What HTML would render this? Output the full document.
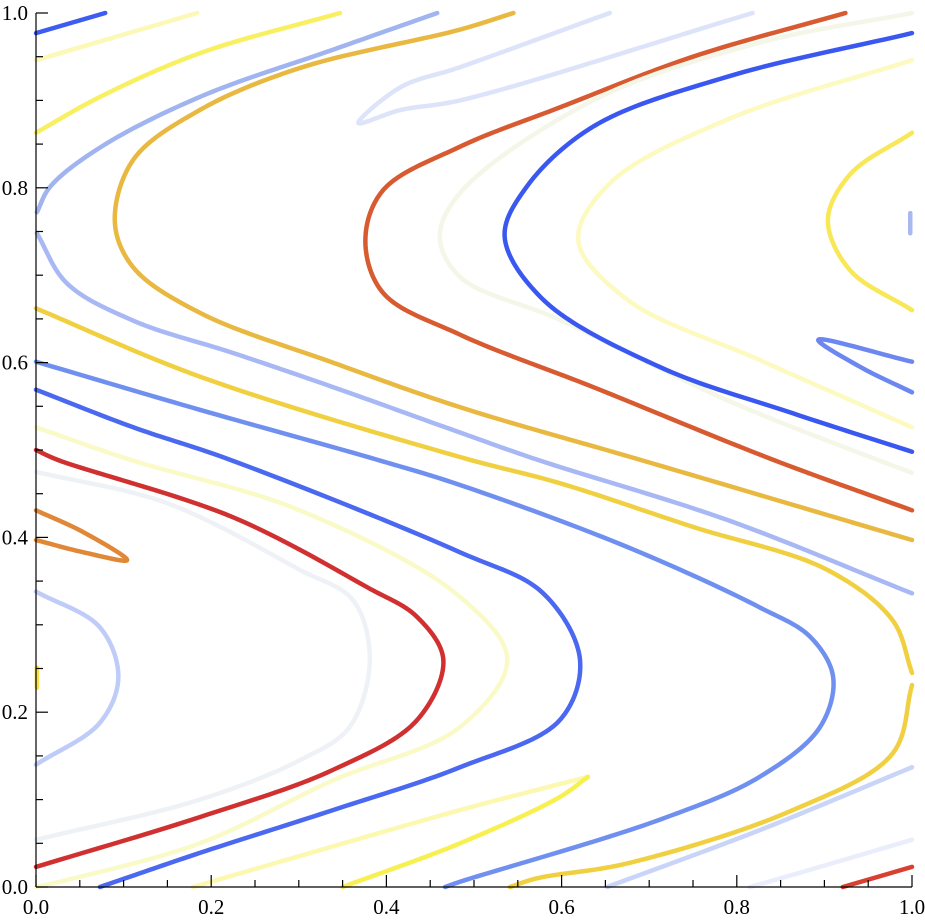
<!DOCTYPE html>
<html><head><meta charset="utf-8"><style>
html,body{margin:0;padding:0;background:#fff;}
svg{display:block;}
text{font-family:"Liberation Serif",serif;font-size:21px;fill:#000;}
</style></head><body>
<svg id="chart" width="925" height="921" viewBox="0 0 925 921" xmlns="http://www.w3.org/2000/svg">
<g id="curves"></g>
<g id="axes"></g>
</svg>
<script>
// contour data (x, y in data units)
const c1=[[0,0.977],[0.079,1.0]];
const c2=[[0,0.946],[0.184,1.0]];
const c3=[[0,0.863],[0.073,0.904],[0.187,0.954],[0.347,1.0]];
const c4a=[[0.458,1.0],[0.339,0.958],[0.187,0.904],[0.073,0.846],[0.016,0.801],[0.001,0.772]];
const c4b=[[0.001,0.748],[0.035,0.691],[0.111,0.648],[0.225,0.611],[0.339,0.572],[0.484,0.520],[0.572,0.489],[0.789,0.420],[1.0,0.336]];
const c5=[[0.545,1.0],[0.484,0.981],[0.301,0.937],[0.187,0.889],[0.111,0.832],[0.090,0.761],[0.111,0.709],[0.187,0.657],[0.339,0.600],[0.484,0.549],[0.689,0.489],[1.0,0.397]];
const c6=[[0.655,1.0],[0.484,0.938],[0.416,0.915],[0.368,0.874],[0.416,0.889],[0.484,0.900],[0.818,1.0]];
const c7=[[0.924,1.0],[0.750,0.950],[0.598,0.892],[0.484,0.847],[0.396,0.797],[0.376,0.740],[0.396,0.680],[0.484,0.632],[0.636,0.572],[0.841,0.489],[1.0,0.431]];
const c8=[[1.0,1.0],[0.826,0.966],[0.636,0.900],[0.484,0.794],[0.461,0.744],[0.484,0.698],[0.598,0.649],[0.789,0.557],[0.960,0.489],[1.0,0.474]];
const c9=[[1.0,0.977],[0.789,0.927],[0.636,0.870],[0.560,0.801],[0.535,0.744],[0.579,0.672],[0.712,0.595],[0.864,0.542],[1.0,0.498]];
const c10=[[1.0,0.946],[0.789,0.878],[0.655,0.805],[0.619,0.740],[0.675,0.672],[0.826,0.603],[1.0,0.526]];
const c11=[[1.0,0.863],[0.929,0.815],[0.904,0.763],[0.929,0.706],[1.0,0.660]];
const c12=[[0.998,0.771],[0.998,0.748]];
const c13=[[1.0,0.601],[0.893,0.626],[0.941,0.595],[1.0,0.566]];
const c14=[[0,0.601],[0.187,0.546],[0.389,0.489],[0.484,0.460],[0.675,0.389],[0.826,0.320],[0.884,0.286],[0.910,0.240],[0.895,0.183],[0.826,0.126],[0.712,0.077],[0.484,0.006],[0.467,0]];
const c15=[[0,0.569],[0.111,0.526],[0.221,0.489],[0.484,0.383],[0.579,0.336],[0.621,0.260],[0.598,0.191],[0.484,0.137],[0.339,0.088],[0.187,0.039],[0.073,0]];
const c16=[[0,0.526],[0.107,0.489],[0.301,0.431],[0.484,0.332],[0.538,0.260],[0.484,0.183],[0.339,0.122],[0.187,0.050],[0.035,0.008],[0,0]];
const c17=[[0,0.5],[0.024,0.489],[0.225,0.423],[0.378,0.343],[0.435,0.309],[0.465,0.260],[0.435,0.191],[0.339,0.134],[0.187,0.080],[0,0.023]];
const c18=[[0,0.475],[0.150,0.439],[0.301,0.363],[0.362,0.328],[0.381,0.260],[0.358,0.183],[0.301,0.145],[0.187,0.100],[0,0.054]];
const c19=[[0,0.431],[0.054,0.406],[0.104,0.374],[0.054,0.383],[0,0.397]];
const c20=[[0,0.338],[0.073,0.297],[0.094,0.240],[0.073,0.188],[0,0.140]];
const c21=[[0.001,0.251],[0.001,0.228]];
const c22a=[[0.179,0],[0.484,0.088],[0.579,0.113],[0.630,0.126]];
const c22b=[[0.630,0.126],[0.598,0.103],[0.484,0.050],[0.350,0]];
const c23a=[[0,0.662],[0.187,0.584],[0.484,0.492],[0.598,0.462],[0.750,0.412],[0.903,0.363],[0.978,0.305],[1.0,0.245]];
const c23b=[[1.0,0.231],[0.978,0.153],[0.864,0.088],[0.675,0.027],[0.572,0.010],[0.541,0]];
const c24=[[1.0,0.137],[0.826,0.065],[0.652,0]];
const c25=[[1.0,0.054],[0.864,0.014],[0.815,0]];
const c26=[[0.921,0],[1.0,0.023]];
const seriesList=[c1,c2,c3,c4a,c4b,c5,c6,c7,c8,c9,c10,c11,c12,c13,c14,c15,c16,c17,c18,c19,c20,c21,c22a,c22b,c23a,c23b,c24,c25,c26];
const seriesColors=["#3d5cf0","#fcf8b8","#f8f060","#a0b4f0","#a8b8f4","#e8b840","#dde4fa","#d85a30","#f4f6e8","#3a58f0","#fcfac0","#f8e858","#a8b8f0","#6c88f0","#7090f0","#4a68f0","#fafac8","#d03030","#eef2f6","#e08838","#c0ccf8","#f8e040","#fcf8b0","#f8f050","#f0d040","#f0d040","#c8d4f8","#eaeefc","#d84030"];
const xTicks=[0,0.2,0.4,0.6,0.8,1.0];
const yTicks=[0,0.2,0.4,0.6,0.8,1.0];
const xTickLabels=["0.0","0.2","0.4","0.6","0.8","1.0"];
const yTickLabels=["0.0","0.2","0.4","0.6","0.8","1.0"];

const X0=36,X1=912,Y0=887,Y1=13;
function sx(v){return X0+v*(X1-X0);}
function sy(v){return Y0-v*(Y0-Y1);}
const NS="http://www.w3.org/2000/svg";
// centripetal Catmull-Rom sampled into a polyline
function pathD(pts){
  const p=pts.map(q=>[sx(q[0]),sy(q[1])]);
  if(p.length<3) return "M"+p.map(a=>a.join(",")).join("L");
  const ext=[[2*p[0][0]-p[1][0],2*p[0][1]-p[1][1]],...p,[2*p[p.length-1][0]-p[p.length-2][0],2*p[p.length-1][1]-p[p.length-2][1]]];
  let out=[p[0]];
  function tj(ti,a,b){return ti+Math.pow(Math.hypot(b[0]-a[0],b[1]-a[1]),0.5)+1e-6;}
  for(let i=1;i<ext.length-2;i++){
    const P0=ext[i-1],P1=ext[i],P2=ext[i+1],P3=ext[i+2];
    const t0=0,t1=tj(t0,P0,P1),t2=tj(t1,P1,P2),t3=tj(t2,P2,P3);
    for(let s=1;s<=20;s++){
      const t=t1+(t2-t1)*s/20;
      const L=(A,B,ta,tb)=>[(tb-t)/(tb-ta)*A[0]+(t-ta)/(tb-ta)*B[0],(tb-t)/(tb-ta)*A[1]+(t-ta)/(tb-ta)*B[1]];
      const A1=L(P0,P1,t0,t1),A2=L(P1,P2,t1,t2),A3=L(P2,P3,t2,t3);
      const B1=L(A1,A2,t0,t2),B2=L(A2,A3,t1,t3);
      out.push(L(B1,B2,t1,t2));
    }
  }
  return "M"+out.map(a=>a[0].toFixed(2)+","+a[1].toFixed(2)).join("L");
}
const cg=document.getElementById('curves');
seriesList.forEach((s,i)=>{
  const el=document.createElementNS(NS,'path');
  el.setAttribute('d',pathD(s));
  el.setAttribute('fill','none');
  el.setAttribute('stroke',seriesColors[i]);
  el.setAttribute('stroke-width','4.5');
  el.setAttribute('stroke-linecap','round');
  el.setAttribute('stroke-linejoin','round');
  
  
  cg.appendChild(el);
});
const ag=document.getElementById('axes');
function line(x1,y1,x2,y2,name){
  const l=document.createElementNS(NS,'line');
  l.setAttribute('x1',x1);l.setAttribute('y1',y1);l.setAttribute('x2',x2);l.setAttribute('y2',y2);
  l.setAttribute('stroke','#000');l.setAttribute('stroke-width','1.2');
  
  
  ag.appendChild(l);
}
line(X0,Y0,X1,Y0,'x-axis');
line(X0,Y0,X0,Y1,'y-axis');
for(let k=0;k<=20;k++){
  const v=k/20, major=(k%4===0);
  const len=major?12:7;
  line(sx(v),Y0,sx(v),Y0-len,'x-tick');
  line(X0,sy(v),X0+len,sy(v),'y-tick');
}
xTicks.forEach((v,i)=>{
  const t=document.createElementNS(NS,'text');
  t.setAttribute('x',sx(v));t.setAttribute('y',Y0+27);
  t.setAttribute('text-anchor','middle');
  t.textContent=xTickLabels[i];
  
  
  ag.appendChild(t);
});
yTicks.forEach((v,i)=>{
  const t=document.createElementNS(NS,'text');
  t.setAttribute('x',X0-8);t.setAttribute('y',sy(v)+7);
  t.setAttribute('text-anchor','end');
  t.textContent=yTickLabels[i];
  
  
  ag.appendChild(t);
});
</script>
</body></html>
